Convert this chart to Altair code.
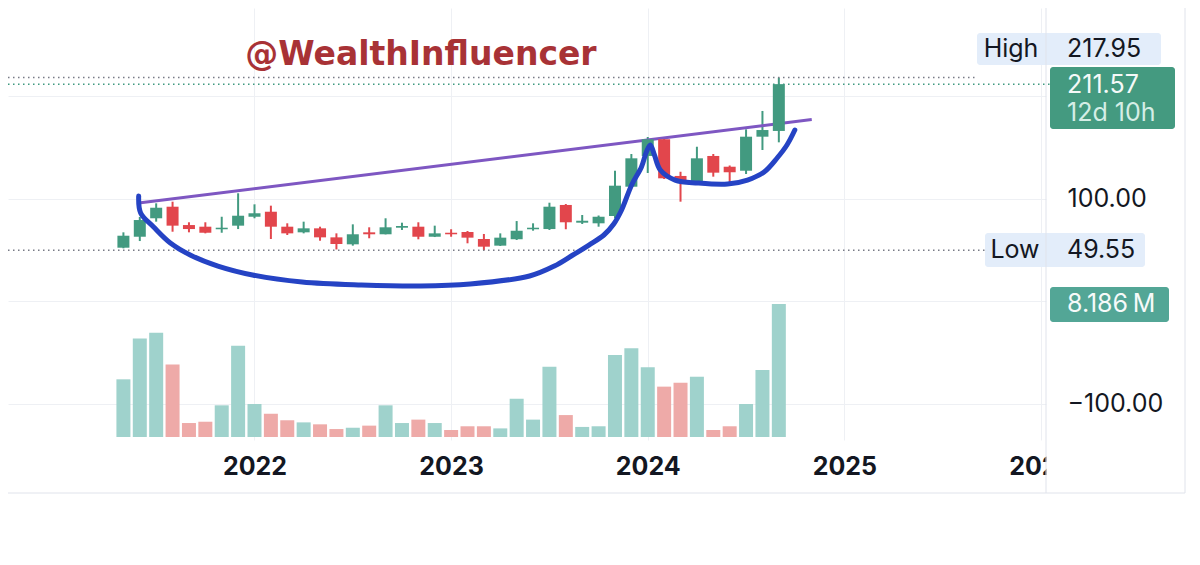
import altair as alt
import pandas as pd

# ---------------- data ----------------
months = ["2021-05", "2021-06", "2021-07", "2021-08", "2021-09", "2021-10", "2021-11", "2021-12",
          "2022-01", "2022-02", "2022-03", "2022-04", "2022-05", "2022-06", "2022-07", "2022-08",
          "2022-09", "2022-10", "2022-11", "2022-12", "2023-01", "2023-02", "2023-03", "2023-04",
          "2023-05", "2023-06", "2023-07", "2023-08", "2023-09", "2023-10", "2023-11", "2023-12",
          "2024-01", "2024-02", "2024-03", "2024-04", "2024-05", "2024-06", "2024-07", "2024-08",
          "2024-09"]
opens = [52.0, 62.7, 80.7, 92.0, 74.1, 72.5, 70.0, 73.5,
         82.2, 87.1, 72.5, 67.0, 70.9, 62.1, 55.3, 67.0,
         65.1, 71.5, 72.5, 62.7, 66.6, 67.3, 60.5, 54.0,
         60.2, 70.0, 70.2, 93.7, 76.4, 75.8, 82.9, 111.5,
         141.5, 157.8, 122.0, 117.1, 141.5, 131.0, 127.1, 160.3,
         165.9]
highs = [67.0, 82.0, 95.3, 96.9, 76.8, 76.8, 82.2, 105.1,
         94.3, 93.0, 75.8, 77.4, 72.5, 66.0, 74.8, 71.9,
         80.7, 76.4, 76.8, 73.5, 70.0, 68.3, 65.4, 66.0,
         78.0, 75.8, 95.9, 94.6, 83.9, 83.4, 127.1, 143.4,
         160.0, 159.0, 126.1, 150.5, 143.4, 132.2, 167.5, 185.4,
         217.95]
lows = [51.4, 58.5, 77.4, 67.6, 67.0, 66.0, 66.6, 70.2,
        80.7, 60.5, 64.4, 66.0, 58.8, 50.3, 54.0, 61.2,
        65.0, 69.3, 60.2, 62.4, 62.7, 56.3, 49.55, 53.7,
        59.5, 68.6, 69.3, 70.0, 75.1, 72.5, 80.7, 111.2,
        124.9, 119.0, 96.9, 116.4, 121.3, 115.4, 123.9, 147.3,
        154.8]
closes = [63.7, 79.0, 91.0, 73.5, 70.2, 66.6, 71.5, 83.2,
          85.6, 72.5, 66.0, 70.9, 62.1, 55.6, 65.1, 65.1,
          71.9, 73.2, 62.7, 66.0, 65.1, 61.8, 53.0, 61.8,
          68.6, 71.5, 92.0, 76.8, 78.3, 82.2, 112.5, 139.2,
          157.8, 119.7, 116.4, 139.2, 125.2, 125.6, 160.3, 166.8,
          211.57]
volumes_m = [3.55, 6.07, 6.42, 4.47, 0.86, 0.94, 1.95, 5.62,
             2.03, 1.43, 1.03, 0.90, 0.78, 0.49, 0.57, 0.70,
             1.95, 0.86, 1.07, 0.86, 0.43, 0.66, 0.66, 0.53,
             2.36, 1.07, 4.33, 1.35, 0.62, 0.66, 5.05, 5.46,
             4.29, 3.10, 3.34, 3.71, 0.43, 0.66, 2.03, 4.12,
             8.186]

# purple resistance line (time in years, price)
trend_t = [2021.411, 2024.834]
trend_p = [95.6, 177.1]

# hand drawn blue "cup and handle" stroke (time in years, price)
cup_t = [2021.411, 2021.421, 2021.487, 2021.572, 2021.673, 2021.814, 2021.990, 2022.242,
         2022.544, 2022.846, 2023.097, 2023.399, 2023.525, 2023.611, 2023.701, 2023.777,
         2023.827, 2023.867, 2023.918, 2023.968, 2023.993, 2024.013, 2024.034, 2024.064,
         2024.139, 2024.255, 2024.406, 2024.507, 2024.592, 2024.658, 2024.708, 2024.748]
cup_p = [102.4, 85.9, 72.2, 56.6, 44.9, 34.1, 25.4, 18.5,
         15.6, 14.6, 16.6, 24.4, 34.1, 43.9, 54.6, 64.4,
         75.1, 88.8, 113.2, 130.7, 145.4, 152.2, 142.4, 127.8,
         118.0, 115.1, 114.1, 118.0, 125.9, 139.5, 152.2, 166.8]

high_value = 217.95
last_value = 211.57
low_value = 49.55
last_volume_text = "8.186\u2009M"
countdown_text = "12d 10h"
year_ticks = [2022, 2023, 2024, 2025, 2026]
price_ticks = [-100, 0, 100, 200]
watermark = "@WealthInfluencer"

# ---------------- styles ----------------
UP, DOWN = "#429a80", "#e2464c"
VUP, VDOWN = "#9fd2cc", "#eeaaa8"
GRID = "#eef0f4"
BORDER = "#e0e3eb"
TXT = "#131722"
FONT = "Inter"

W, H = 1038, 432


def to_t(m):
    y, mo = m.split("-")
    return int(y) + (int(mo) - 1) / 12


df = pd.DataFrame({
    "month": months, "t": [to_t(m) for m in months],
    "open": opens, "high": highs, "low": lows, "close": closes, "vol": volumes_m,
})
df["col"] = [UP if c >= o else DOWN for o, c in zip(opens, closes)]
df["vcol"] = [VUP if c >= o else VDOWN for o, c in zip(opens, closes)]
df["v0"] = 0.0

xscale = alt.Scale(domain=[2020.7718, 2026.0], nice=False, zero=False)
yscale = alt.Scale(domain=[-135.6, 285.85], nice=False, zero=False)
vscale = alt.Scale(domain=[-0.1846, 26.405], nice=False, zero=False)

xaxis = alt.Axis(values=year_ticks, format="d", title=None, grid=True, gridColor=GRID,
                 domain=False, ticks=False, labelFlush=False, labelOverlap=False,
                 labelFont=FONT, labelFontSize=25, labelFontWeight="bold",
                 labelColor=TXT, labelPadding=14, zindex=0)
yaxis = alt.Axis(values=price_ticks, orient="right", title=None, grid=True, gridColor=GRID,
                 domain=False, ticks=False, labelFont=FONT, labelFontSize=25,
                 labelColor=TXT, labelPadding=21, labelAlign="left", labelOverlap=False,
                 labelExpr="datum.value == 100 ? '100.00' : (datum.value == -100 ? '\u2212100.00' : '')",
                 zindex=0)


def X(field="t"):
    return alt.X(f"{field}:Q", scale=xscale, axis=xaxis)


def Y(field):
    return alt.Y(f"{field}:Q", scale=yscale, axis=yaxis)


one = pd.DataFrame({"a": [0]})


def box(x1, x2, y1, y2, color):
    return alt.Chart(one).mark_rect(color=color, cornerRadius=3).encode(
        x=alt.value(x1), x2=alt.value(x2), y=alt.value(y1), y2=alt.value(y2))


def label(x, y, text, color=TXT, size=25, align="left", weight="normal", font=FONT,
          baseline="middle", opacity=1.0):
    return alt.Chart(one).mark_text(text=text, color=color, fontSize=size, align=align,
                                    fontWeight=weight, font=font, baseline=baseline,
                                    opacity=opacity).encode(
        x=alt.value(x), y=alt.value(y))


def rule(x1, x2, y1, y2, color=BORDER, width=1):
    return alt.Chart(one).mark_rule(color=color, strokeWidth=width).encode(
        x=alt.value(x1), x2=alt.value(x2), y=alt.value(y1), y2=alt.value(y2))


def price_line(value, x2, color):
    return alt.Chart(pd.DataFrame({"p": [value]})).mark_rule(
        color=color, strokeWidth=1.5, strokeDash=[1.5, 3.5]).encode(
        y=Y("p"), x=alt.value(0), x2=alt.value(x2))


base = alt.Chart(df)

wicks = base.mark_rule(strokeWidth=2).encode(
    x=X(), y=Y("low"), y2="high:Q",
    color=alt.Color("col:N", scale=None),
)
bodies = base.mark_bar(size=12, orient="vertical").encode(
    x=X(), y=Y("open"), y2="close:Q",
    color=alt.Color("col:N", scale=None),
)

trend = alt.Chart(pd.DataFrame({"t": trend_t, "p": trend_p})).mark_line(
    color="#7e57c2", strokeWidth=3).encode(x=X(), y=Y("p"))

cup = alt.Chart(pd.DataFrame({"t": cup_t, "p": cup_p, "i": list(range(len(cup_t)))})).mark_line(
    color="#2543c4", strokeWidth=5, strokeCap="round", strokeJoin="round",
    interpolate="catmull-rom").encode(x=X(), y=Y("p"), order="i:Q")

decor = [
    # watermark
    label(413, 57, watermark, color="#a83236", size=33, align="center", weight="bold",
          font="DejaVu Sans", baseline="alphabetic"),
    # cover the clipped last year label inside the price-scale panel
    box(1038.5, 1176, 441, 484, "white"),
    # High
    box(969, 1153, 25, 57, "#e3edfa"),
    label(1003, 41, "High", align="center"),
    label(1059, 41, f"{high_value:.2f}"),
    # Last price
    box(1042, 1167, 59, 121, "#449a80"),
    label(1059, 77, f"{last_value:.2f}", color="#ffffff", opacity=0.95),
    label(1059, 105, countdown_text, color="#d5eee6"),
    # Low
    box(977, 1137, 225, 259, "#e3edfa"),
    label(1007, 242, "Low", align="center"),
    label(1059, 242, f"{low_value:.2f}"),
    # Volume
    box(1042, 1161, 279, 314, "#53a696"),
    label(1059, 296, last_volume_text, color="#ffffff", opacity=0.95),
    # panel borders
    rule(1038, 1038, -8, 485),
    rule(1177, 1177, -8, 485),
    rule(-8, 1177, 485, 485),
]

price_layer = alt.layer(
    wicks,
    price_line(high_value, 969, "#787b86"),
    price_line(last_value, 1042, "#3f9a80"),
    price_line(low_value, 977, "#787b86"),
    trend,
    bodies,
    cup,
    *decor,
)

vol_layer = base.mark_bar(size=14, orient="vertical").encode(
    x=X(),
    y=alt.Y("vol:Q", scale=vscale, axis=None),
    y2="v0:Q",
    color=alt.Color("vcol:N", scale=None),
)

chart = alt.layer(vol_layer, price_layer).resolve_scale(y="independent").properties(
    width=W, height=H,
    padding={"left": 0, "top": 0, "right": 146, "bottom": 117},
    autosize=alt.AutoSizeParams(type="none"),
    background="white",
).configure_view(strokeWidth=0)

chart.save("out.html", embed_options={"renderer": "svg", "actions": False})
